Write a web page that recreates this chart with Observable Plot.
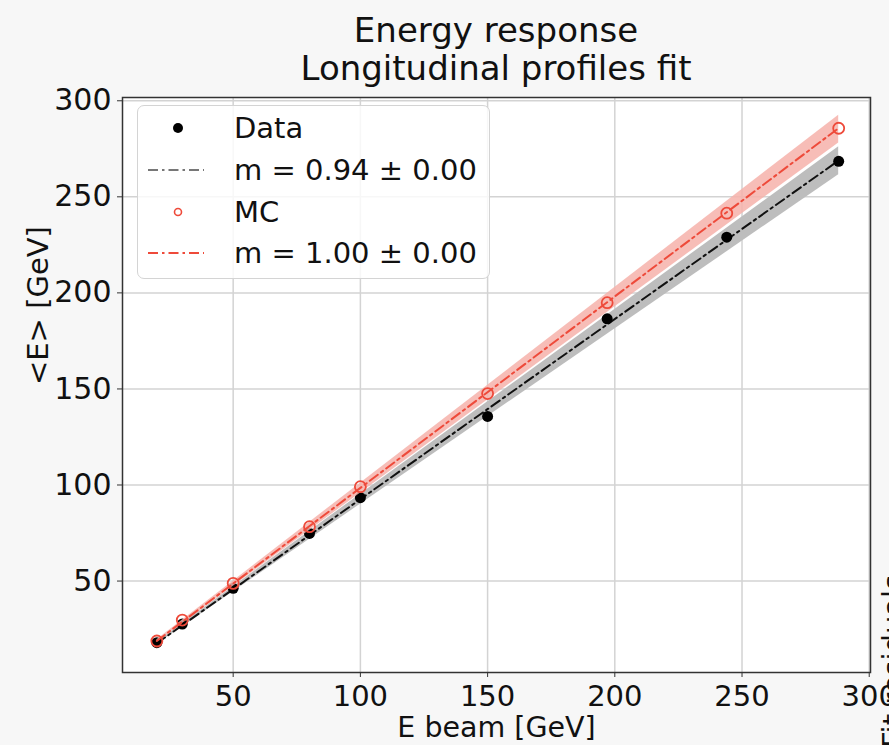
<!DOCTYPE html>
<html>
<head>
<meta charset="utf-8">
<script src="https://cdn.jsdelivr.net/npm/d3@7"></script>
<script src="https://cdn.jsdelivr.net/npm/@observablehq/plot@0.6"></script>
<style>
  html, body { margin: 0; padding: 0; background: #f7f7f7; overflow: hidden; }
  body { width: 889px; height: 745px; position: relative; font-family: "DejaVu Sans", sans-serif; }
  #title { position: absolute; left: 122px; top: 0; width: 748px; height: 90px; padding-top: 11px; box-sizing: border-box;
           text-align: center; font-size: 34px; line-height: 38px; color: #111; z-index: 2; }
  #chart { position: absolute; left: 0; top: 80px; }
  #legend { position: absolute; left: 137px; top: 105px; width: 353px; height: 174px; box-sizing: border-box;
            border: 1.5px solid #d4d4d4; border-radius: 7px; background: rgba(255,255,255,0.82); }
  #overlay { position: absolute; left: 0; top: 0; pointer-events: none; }
</style>
</head>
<body>
<div id="chart"></div>
<div id="title">Energy response<br>Longitudinal profiles fit</div>
<div id="legend"></div>
<script>
// ---- data ----
const beamE  = [20, 30, 50, 80, 100, 150, 197, 244, 288];
const dataE  = [17.9, 27.6, 46.2, 74.8, 93.4, 135.7, 186.5, 229.0, 268.5];
const mcE    = [18.8, 29.7, 48.8, 78.3, 99.1, 147.6, 194.9, 241.5, 285.7];

// fit lines and uncertainty bands at the ends of the fitted range
const fitX       = [20, 288];
const dataFit    = [17.6, 268.9];
const dataBandLo = [17.0, 261.5];
const dataBandHi = [18.2, 276.0];
const mcFit      = [18.8, 285.8];
const mcBandLo   = [18.2, 278.0];
const mcBandHi   = [19.4, 292.5];

const xTicks = [50, 100, 150, 200, 250, 300];
const yTicks = [50, 100, 150, 200, 250, 300];
const legendLabels = ["Data", "m = 0.94 \u00b1 0.00", "MC", "m = 1.00 \u00b1 0.00"];
const xLabel = "E beam [GeV]";
const yLabel = "<E> [GeV]";
const sideLabel = "Fit residuals";

// ---- styles ----
const RED = "#ee4a3a";
const RED_BAND = "#f6b2aa";
const GRAY_BAND = "#bdbdbd";
const DASHDOT = "10,4,2.5,4";

const points = beamE.map((e, i) => ({e, data: dataE[i], mc: mcE[i]}));
const fits = fitX.map((x, i) => ({x, dfit: dataFit[i], dlo: dataBandLo[i], dhi: dataBandHi[i],
                                   mfit: mcFit[i], mlo: mcBandLo[i], mhi: mcBandHi[i]}));

const W = 889, H = 665, ML = 122, MR = 19, MT = 17, MB = 73;
const plot = Plot.plot({
  width: W,
  height: H,
  marginLeft: ML,
  marginRight: MR,
  marginTop: MT,
  marginBottom: MB,
  style: {fontFamily: "DejaVu Sans, sans-serif", fontSize: "30px", background: "transparent", color: "#111", overflow: "visible"},
  x: {domain: [6.5, 300.5]},
  y: {domain: [2.4, 301.7]},
  marks: [
    () => {
      const ns = "http://www.w3.org/2000/svg";
      const r = document.createElementNS(ns, "rect");
      r.setAttribute("x", ML); r.setAttribute("y", MT);
      r.setAttribute("width", W - ML - MR); r.setAttribute("height", H - MT - MB);
      r.setAttribute("fill", "white");
      const g = document.createElementNS(ns, "g"); g.appendChild(r); return g;
    },
    Plot.gridX(xTicks, {stroke: "#d3d3d3", strokeOpacity: 1, strokeWidth: 1.5}),
    Plot.gridY(yTicks, {stroke: "#d3d3d3", strokeOpacity: 1, strokeWidth: 1.5}),
    Plot.areaY(fits, {x: "x", y1: "dlo", y2: "dhi", fill: GRAY_BAND}),
    Plot.line(fits, {x: "x", y: "dfit", stroke: "#111", strokeWidth: 2, strokeDasharray: DASHDOT}),
    Plot.dot(points, {x: "e", y: "data", r: 5.5, fill: "#000", stroke: "none"}),
    Plot.areaY(fits, {x: "x", y1: "mlo", y2: "mhi", fill: RED_BAND, fillOpacity: 0.85}),
    Plot.line(fits, {x: "x", y: "mfit", stroke: RED, strokeWidth: 2, strokeDasharray: DASHDOT}),
    Plot.dot(points, {x: "e", y: "mc", r: 5.5, fill: "none", stroke: RED, strokeWidth: 1.8}),
    Plot.frame({stroke: "#333", strokeWidth: 1.5}),
    Plot.axisX({ticks: xTicks, tickSize: 5, tickPadding: 8, label: null, stroke: "#333", fontSize: 29}),
    Plot.axisY({ticks: yTicks, tickSize: 5, tickPadding: 6, label: null, stroke: "#333", fontSize: 30}),
    Plot.text([xLabel], {frameAnchor: "bottom", dy: 55, text: d => d, fontSize: 28.5, lineAnchor: "middle", fill: "#111"}),
    Plot.text([yLabel], {frameAnchor: "left", dx: -84, rotate: -90, text: d => d, fontSize: 29, lineAnchor: "middle", fill: "#111"})
  ]
});
document.getElementById("chart").appendChild(plot);

// ---- legend ----
const lg = d3.select("#legend").append("svg").attr("width", 350).attr("height", 171)
  .style("position", "absolute").style("left", 0).style("top", 0)
  .style("font-family", "DejaVu Sans, sans-serif");
const rowY = [22, 64, 106, 147];
const sx = 40, lx0 = 10, lx1 = 66, tx = 96;
lg.append("circle").attr("cx", sx).attr("cy", rowY[0]).attr("r", 5).attr("fill", "#000");
lg.append("line").attr("x1", lx0).attr("x2", lx1).attr("y1", rowY[1]).attr("y2", rowY[1])
  .attr("stroke", "#777").attr("stroke-width", 2).attr("stroke-dasharray", DASHDOT);
lg.append("circle").attr("cx", sx).attr("cy", rowY[2]).attr("r", 3.5).attr("fill", "none")
  .attr("stroke", RED).attr("stroke-width", 1.6);
lg.append("line").attr("x1", lx0).attr("x2", lx1).attr("y1", rowY[3]).attr("y2", rowY[3])
  .attr("stroke", RED).attr("stroke-width", 2.2).attr("stroke-dasharray", DASHDOT);
legendLabels.forEach((t, i) => {
  lg.append("text").attr("x", tx).attr("y", rowY[i]).attr("dy", "0.36em")
    .attr("font-size", 29).attr("fill", "#111").text(t);
});

// ---- cut-off neighbouring panel label at right edge ----
const ov = d3.select("body").append("svg").attr("id", "overlay").attr("width", 889).attr("height", 745);
ov.append("text").attr("transform", "translate(903,748) rotate(-90)")
  .attr("font-size", 29).attr("fill", "#111").style("font-family", "DejaVu Sans, sans-serif").text(sideLabel);
</script>
</body>
</html>
